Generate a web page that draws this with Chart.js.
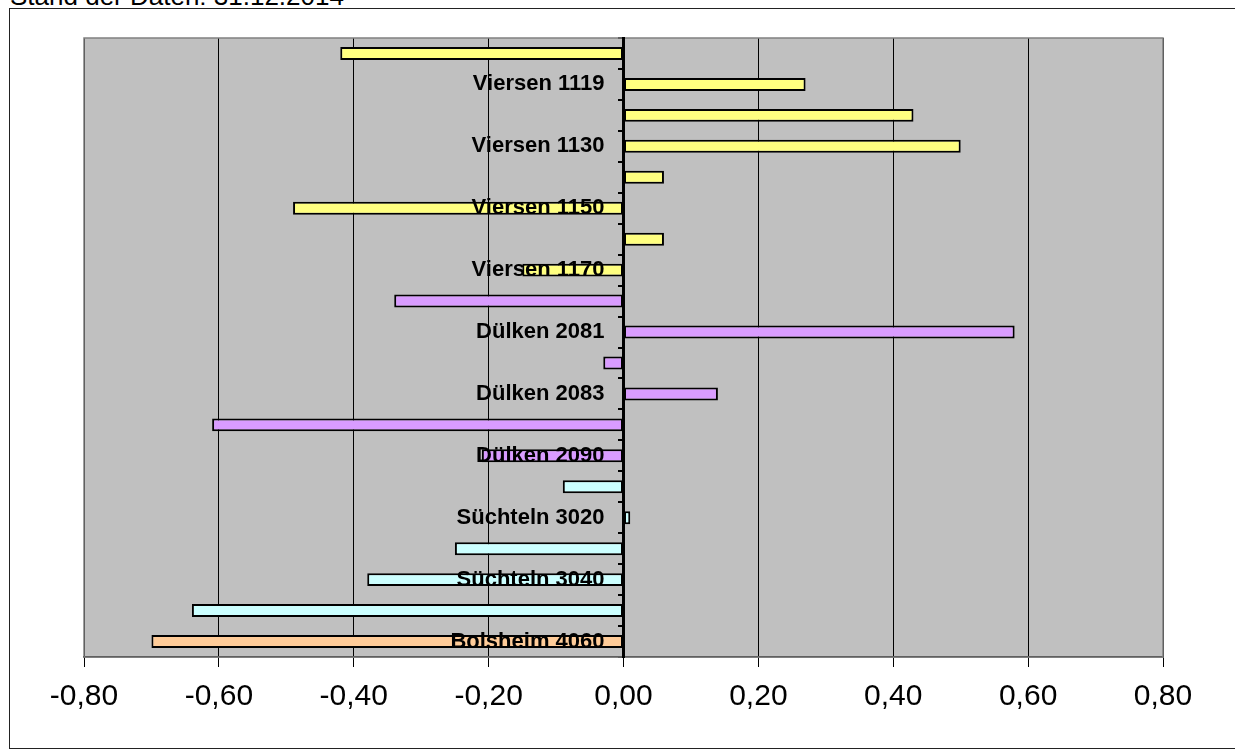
<!DOCTYPE html>
<html>
<head>
<meta charset="utf-8">
<script src="https://cdn.jsdelivr.net/npm/chart.js@4.4.1/dist/chart.umd.min.js"></script>
<style>
    body { margin: 0; background: #fff; overflow: hidden; }
    #wrap { position: relative; width: 1235px; height: 756px; }
    #stand { position: absolute; left: 10px; top: -17px; font: 26px "Liberation Sans", Arial, sans-serif; line-height: 26px; color: #000; white-space: nowrap; }
    #frame { position: absolute; left: 9px; top: 8px; width: 1240px; height: 739px; border: 1px solid #222; border-right: none; }
    canvas { position: absolute; left: 0; top: 0; }
</style>
</head>
<body>
<div id="wrap">
    <div id="stand">Stand der Daten: 31.12.2014</div>
    <div id="frame"></div>
    <canvas id="chart" width="1235" height="756"></canvas>
</div>
<script>
// Kategorien (nur jede zweite wird beschriftet)
const categories = [
    'Viersen 1110', 'Viersen 1119', 'Viersen 1120', 'Viersen 1130',
    'Viersen 1140', 'Viersen 1150', 'Viersen 1160', 'Viersen 1170',
    'Dülken 2080', 'Dülken 2081', 'Dülken 2082', 'Dülken 2083',
    'Dülken 2084', 'Dülken 2090',
    'Süchteln 3010', 'Süchteln 3020', 'Süchteln 3030', 'Süchteln 3040', 'Süchteln 3050',
    'Bolsheim 4060'
];

const values = [
    -0.42, 0.27, 0.43, 0.50,
    0.06, -0.49, 0.06, -0.15,
    -0.34, 0.58, -0.03, 0.14,
    -0.61, -0.21,
    -0.09, 0.01, -0.25, -0.38, -0.64,
    -0.70
];

const districts = [
    'Viersen', 'Viersen', 'Viersen', 'Viersen', 'Viersen', 'Viersen', 'Viersen', 'Viersen',
    'Dülken', 'Dülken', 'Dülken', 'Dülken', 'Dülken', 'Dülken',
    'Süchteln', 'Süchteln', 'Süchteln', 'Süchteln', 'Süchteln',
    'Bolsheim'
];

const districtColors = {
    'Viersen': '#ffff80',
    'Dülken': '#d99cff',
    'Süchteln': '#ccffff',
    'Bolsheim': '#ffcc99'
};

const xTicks = [-0.8, -0.6, -0.4, -0.2, 0, 0.2, 0.4, 0.6, 0.8];

// Plot background, border, and gap between labels and zero axis
const plotArea = {
    id: 'plotArea',
    beforeDraw(chart) {
        const {ctx, chartArea: a} = chart;
        ctx.save();
        ctx.fillStyle = '#c0c0c0';
        ctx.fillRect(a.left, a.top, a.right - a.left, a.bottom - a.top);
        ctx.restore();

        // labels of an axis placed at x=0 ignore ticks.padding, so move them here
        const items = chart.scales.y.getLabelItems(a);
        if (!items._shifted) {
            items.forEach(item => { item.options.translation[0] -= 19; });
            items._shifted = true;
        }
    },
    beforeDatasetsDraw(chart) {
        const {ctx, chartArea: a} = chart;
        ctx.save();
        ctx.strokeStyle = '#808080';
        ctx.lineWidth = 1.5;
        ctx.strokeRect(a.left, a.top, a.right - a.left, a.bottom - a.top);
        ctx.restore();
    }
};

new Chart(document.getElementById('chart'), {
    type: 'bar',
    data: {
        labels: categories,
        datasets: [{
            data: values,
            backgroundColor: districts.map(d => districtColors[d]),
            borderColor: '#000',
            borderWidth: 2,
            borderSkipped: false,
            barPercentage: 0.42,
            categoryPercentage: 1
        }]
    },
    options: {
        indexAxis: 'y',
        responsive: false,
        animation: false,
        layout: { padding: { left: 84, right: 72, top: 38, bottom: 29 } },
        plugins: {
            legend: { display: false },
            tooltip: { enabled: false }
        },
        scales: {
            x: {
                min: -0.8,
                max: 0.8,
                afterBuildTicks: scale => { scale.ticks = xTicks.map(v => ({ value: v })); },
                grid: { color: '#000', lineWidth: 1, tickLength: 10, tickColor: '#000' },
                border: { color: '#000', width: 1.5 },
                ticks: {
                    color: '#000',
                    padding: 12,
                    font: { family: '"Liberation Sans", Arial, sans-serif', size: 30 },
                    callback: v => v.toFixed(2).replace('.', ',')
                }
            },
            y: {
                position: { x: 0 },
                grid: { drawOnChartArea: false, tickLength: 4, color: '#000', lineWidth: 2 },
                border: { color: '#000', width: 3, z: 1 },
                ticks: {
                    z: 1,
                    autoSkip: false,
                    color: '#000',
                    font: { family: '"Liberation Sans", Arial, sans-serif', size: 22, weight: 'bold' },
                    callback: function(v, i) { return i % 2 === 1 ? this.getLabelForValue(v) : ''; }
                }
            }
        }
    },
    plugins: [plotArea]
});
</script>
</body>
</html>
